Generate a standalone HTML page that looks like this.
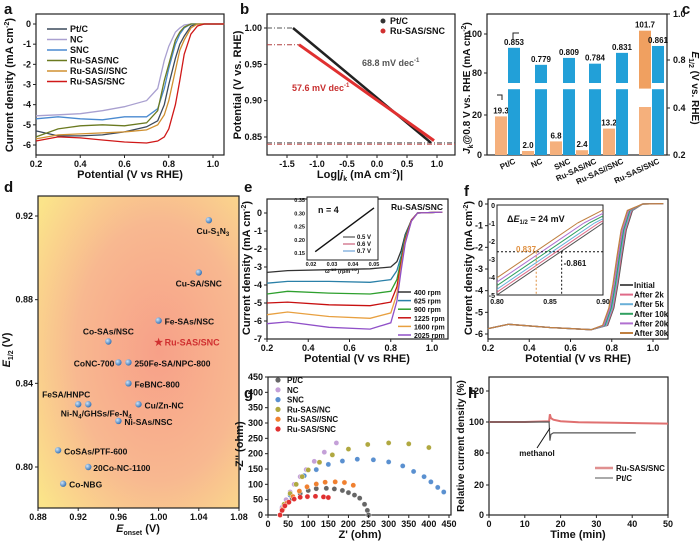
<!DOCTYPE html>
<html><head><meta charset="utf-8">
<style>
body{margin:0;background:#fff;}
svg{display:block;font-family:"Liberation Sans",sans-serif;font-weight:bold;}
</style></head>
<body>
<svg id="fig" width="700" height="556" viewBox="0 0 700 556" xmlns="http://www.w3.org/2000/svg">
<defs>
<radialGradient id="dbg" cx="0.6" cy="0.5" r="0.75">
<stop offset="0" stop-color="#f7a088"/><stop offset="0.55" stop-color="#f8b890"/><stop offset="1" stop-color="#fbe48a"/>
</radialGradient>
<radialGradient id="ball" cx="0.35" cy="0.35" r="0.7"><stop offset="0" stop-color="#cfe4f8"/><stop offset="1" stop-color="#2f6db0"/></radialGradient>
</defs>
</svg>
<script>
// ---------- DATA ----------
const aNames=["Pt/C","NC","SNC","Ru-SAS/NC","Ru-SAS//SNC","Ru-SAS/SNC"];
const aColors=["#3c4a5c","#a9a0d0","#4a8ad0","#6b7a20","#d09030","#d01818"];
const aV=[0.2,0.3,0.4,0.5,0.6,0.7,0.75,0.78,0.8,0.83,0.85,0.87,0.9,0.93,0.96,1.05];
const aPt=[-5.3,-5.55,-5.55,-5.5,-5.35,-5.1,-4.8,-4.0,-3.0,-1.7,-1.0,-0.6,-0.1,0,0,0];
const aNC=[-4.55,-4.5,-4.45,-4.3,-4.1,-3.8,-3.2,-1.8,-1.1,-0.4,-0.2,-0.05,0,0,0,0];
const aSNC=[-4.7,-4.6,-4.7,-4.75,-4.6,-4.6,-4.2,-3.2,-2.2,-1.0,-0.5,-0.2,0,0,0,0];
const aRuNC=[-5.6,-5.2,-5.05,-5.0,-5.05,-4.9,-4.3,-2.8,-2.0,-0.8,-0.4,-0.15,0,0,0,0];
const aRuSSNC=[-5.7,-5.5,-5.45,-5.4,-5.35,-5.25,-5.0,-4.5,-3.8,-2.3,-1.3,-0.8,-0.2,0,0,0];
const aRuSNC=[-5.8,-5.6,-5.65,-5.75,-5.85,-5.9,-5.8,-5.6,-5.2,-4.0,-2.8,-1.5,-0.5,-0.1,0,0];
const aSeries=[aPt,aNC,aSNC,aRuNC,aRuSSNC,aRuSNC];
const bLogJ0=[-1.4,-1.3]; const bLogJ1=[0.9,0.95];
const bE0=[1.0,0.977]; const bE1=[0.842,0.845];
const bSlopes=["68.8 mV dec","57.6 mV dec"];
const cCats=["Pt/C","NC","SNC","Ru-SAS/NC","Ru-SAS//SNC","Ru-SAS/SNC"];
const cJk=[19.3,2.0,6.8,2.4,13.2,101.7];
const cE12=[0.853,0.779,0.809,0.784,0.831,0.861];
const dNames=["Cu-S1N3","Cu-SA/SNC","Fe-SAs/NSC","Co-SAs/NSC","CoNC-700","250Fe-SA/NPC-800","FeBNC-800","FeSA/HNPC","Ni-N4/GHSs/Fe-N4","Cu/Zn-NC","Ni-SAs/NSC","CoSAs/PTF-600","20Co-NC-1100","Co-NBG"];
const dOnset=[1.05,1.04,1.00,0.95,0.96,0.97,0.97,0.92,0.93,0.98,0.96,0.90,0.93,0.905];
const dE12=[0.918,0.893,0.870,0.860,0.850,0.850,0.840,0.830,0.830,0.830,0.822,0.808,0.800,0.792];
const dStar=[1.00,0.860];
const eRpm=["400 rpm","625 rpm","900 rpm","1225 rpm","1600 rpm","2025 rpm"];
const eColors=["#333","#2a80a8","#2ea02e","#c81010","#e8a040","#9050c8"];
const eV=[0.2,0.3,0.5,0.7,0.8,0.83,0.85,0.87,0.9,0.93,1.05];
const e400=[-3.3,-3.2,-3.15,-3.1,-3.0,-2.7,-2.1,-1.2,-0.4,0,0.05];
const e625=[-3.9,-3.8,-3.8,-3.85,-3.7,-3.2,-2.4,-1.3,-0.4,0,0.05];
const e900=[-4.5,-4.35,-4.45,-4.5,-4.35,-3.7,-2.6,-1.4,-0.4,0,0.05];
const e1225=[-5.0,-4.95,-5.1,-5.15,-4.95,-4.1,-2.8,-1.5,-0.4,0,0.05];
const e1600=[-5.65,-5.5,-5.75,-5.85,-5.55,-4.5,-3.0,-1.6,-0.45,0,0.05];
const e2025=[-6.15,-6.05,-6.35,-6.45,-6.1,-4.9,-3.2,-1.7,-0.45,0,0.05];
const eSeries=[e400,e625,e900,e1225,e1600,e2025];
const eInsX=[0.022,0.05]; const eInsY=[0.155,0.32];
const fNames=["Initial","After 2k","After 5k","After 10k","After 20k","After 30k"];
const fColors=["#555","#e06a88","#6ab0d8","#30a060","#b070d0","#c08040"];
const fShift=[0,0.004,0.008,0.013,0.018,0.024];
const fV=[0.2,0.3,0.5,0.7,0.78,0.81,0.83,0.85,0.87,0.9,0.95,1.05];
const fJ=[-5.75,-5.55,-5.7,-5.8,-5.6,-4.8,-3.7,-2.4,-1.2,-0.3,0,0.02];
const fInsV=[0.80,0.82,0.84,0.86,0.88,0.90];
const fInsJ=[-5.0,-4.2,-3.4,-2.6,-1.8,-1.0];
const gNames=["Pt/C","NC","SNC","Ru-SAS/NC","Ru-SAS//SNC","Ru-SAS/SNC"];
const gColors=["#666","#c4a0d8","#5a90d0","#b0a840","#f08030","#e03030"];
const gPtX=[30,35,45,60,80,100,120,145,165,185,200,215,228,240,247,250];
const gPtY=[0,20,40,55,70,80,86,87,85,80,73,65,55,35,15,0];
const gNCX=[30,35,45,55,65,80,95,115,140,170];
const gNCY=[0,25,50,75,100,125,148,175,205,235];
const gSNCX=[30,40,55,70,90,120,150,185,222,262,300,335,362,388,405,422,437];
const gSNCY=[0,30,65,100,128,148,165,176,182,180,173,160,142,125,108,90,75];
const gRNX=[30,40,55,70,85,100,128,160,200,248,300,350,400];
const gRNY=[0,35,70,100,125,147,172,196,215,230,235,232,220];
const gRSSX=[30,37,48,62,78,97,120,142,167,190,212];
const gRSSY=[0,20,40,60,78,92,101,107,108,106,97];
const gRSX=[30,35,42,52,65,80,98,118,138,150];
const gRSY=[0,15,30,42,52,58,60,61,59,57];
const gX=[gPtX,gNCX,gSNCX,gRNX,gRSSX,gRSX]; const gY=[gPtY,gNCY,gSNCY,gRNY,gRSSY,gRSY];
const hT1=[0,5,10,16.8,17.0,17.3,18,20,25,35,50];
const hR1=[100,100,100,100.5,105,102.5,101.5,100.5,99.8,99.5,99];
const hT2=[0,5,10,16.8,17.0,17.3,18,25,41];
const hR2=[100,100,100,100,88,92,93,93,93];

// ---------- HELPERS ----------
const svg=document.getElementById('fig');
const NS='http://www.w3.org/2000/svg';
function mk(tag,attrs,name,parent){
  const el=document.createElementNS(NS,tag);
  for(const k in attrs) el.setAttribute(k,attrs[k]);
  
  
  (parent||svg).appendChild(el);
  return el;
}
function txt(x,y,s,name,o){o=o||{};
  const el=mk('text',Object.assign({x:x,y:y,'font-size':o.fs||9,fill:o.fill||'#111','text-anchor':o.anchor||'middle'},o.tr?{transform:o.tr}:{}),name,o.p);
  el.innerHTML=s; return el;}
function sc(d0,d1,r0,r1){return v=>r0+(v-d0)*(r1-r0)/(d1-d0);}
function frame(x0,y0,x1,y1,name){mk('rect',{x:x0,y:y0,width:x1-x0,height:y1-y0,fill:'none',stroke:'#222','stroke-width':1.2},name);}
function xticks(vals,X,yb,labels,name){vals.forEach((v,i)=>{mk('line',{x1:X(v),x2:X(v),y1:yb,y2:yb+3,stroke:'#222'},name+'-tick');txt(X(v),yb+12,labels[i],name+'-label');});}
function yticks(vals,Y,xl,labels,name,right){vals.forEach((v,i)=>{mk('line',{x1:xl,x2:right?xl+3:xl-3,y1:Y(v),y2:Y(v),stroke:'#222'},name+'-tick');txt(right?xl+6:xl-5,Y(v)+3,labels[i],name+'-label',{anchor:right?'start':'end'});});}
function path(xs,ys,X,Y,col,name,w){let d='';xs.forEach((v,i)=>{d+=(i?'L':'M')+X(v).toFixed(1)+','+Y(ys[i]).toFixed(1);});return mk('path',{d:d,fill:'none',stroke:col,'stroke-width':w||1.3},name);}
function plabel(x,y,s){txt(x,y,s,'panel-label-'+s,{fs:15,anchor:'start'});}

// ---------- PANEL A ----------
(function(){
const X=sc(0.2,1.0,36,213),Y=sc(0,-6,24,145);
frame(36,14,224,155,'panel-a-frame');
aSeries.forEach((s,i)=>path(aV,s,X,Y,aColors[i],'lsv-curve-'+aNames[i]));
xticks([0.2,0.4,0.6,0.8,1.0],X,155,['0.2','0.4','0.6','0.8','1.0'],'a-x');
yticks([0,-1,-2,-3,-4,-5,-6],Y,36,['0','-1','-2','-3','-4','-5','-6'],'a-y');
txt(130,178,'Potential (V vs RHE)','a-x-axis-title',{fs:11});
txt(13,85,'Current  density (mA cm<tspan font-size="7" dy="-4">-2</tspan><tspan dy="4">)</tspan>','a-y-axis-title',{fs:11,tr:'rotate(-90 13 85)'});
aNames.forEach((n,i)=>{const y=29+i*10.5;mk('line',{x1:47,x2:67,y1:y,y2:y,stroke:aColors[i],'stroke-width':1.5},'a-legend-line');txt(70,y+3,n,'a-legend-entry',{anchor:'start'});});
plabel(4,14,'a');
})();

// ---------- PANEL B ----------
(function(){
const X=sc(-1.5,1.0,287,437),Y=sc(1.0,0.85,28,137);
frame(267,14,455,155,'panel-b-frame');
mk('line',{x1:267,x2:X(bLogJ0[0]),y1:Y(bE0[0]),y2:Y(bE0[0]),stroke:'#555','stroke-dasharray':'5,2,1,2'},'b-ref-line');
mk('line',{x1:267,x2:X(bLogJ0[1]),y1:Y(bE0[1]),y2:Y(bE0[1]),stroke:'#b04040','stroke-dasharray':'5,2,1,2'},'b-ref-line');
mk('line',{x1:267,x2:455,y1:Y(0.842),y2:Y(0.842),stroke:'#555','stroke-dasharray':'5,2,1,2'},'b-ref-line');
mk('line',{x1:267,x2:455,y1:Y(0.840),y2:Y(0.840),stroke:'#c05050','stroke-dasharray':'5,2,1,2'},'b-ref-line');
path([bLogJ0[0],bLogJ1[0]],[bE0[0],bE1[0]],X,Y,'#222','tafel-ptc',2.5);
path([bLogJ0[1],bLogJ1[1]],[bE0[1],bE1[1]],X,Y,'#e03030','tafel-ru-sas-snc',3);
xticks([-1.5,-1.0,-0.5,0,0.5,1.0],X,155,['-1.5','-1.0','-0.5','0.0','0.5','1.0'],'b-x');
yticks([1.0,0.95,0.9,0.85],Y,267,['1.00','0.95','0.90','0.85'],'b-y');
txt(362,66,bSlopes[0]+'<tspan font-size="6" dy="-4">-1</tspan>','b-slope-ptc',{fs:9,fill:'#555',anchor:'start'});
txt(292,91,bSlopes[1]+'<tspan font-size="6" dy="-4">-1</tspan>','b-slope-ru',{fs:9,fill:'#c83030',anchor:'start'});
txt(360,178,'Log|<tspan font-style="italic">j</tspan><tspan font-size="7" dy="3">k</tspan><tspan dy="-3"> (mA cm</tspan><tspan font-size="7" dy="-4">-2</tspan><tspan dy="4">)|</tspan>','b-x-axis-title',{fs:11});
txt(241,85,'Potential (V vs. RHE)','b-y-axis-title',{fs:11,tr:'rotate(-90 241 85)'});
[['Pt/C','#333'],['Ru-SAS/SNC','#d03030']].forEach((l,i)=>{mk('circle',{cx:383,cy:21+i*10,r:2.5,fill:l[1]},'b-legend-marker');txt(390,24+i*10,l[0],'b-legend-entry',{anchor:'start'});});
plabel(240,14,'b');
})();

// ---------- PANEL C ----------
(function(){
const YL=v=>v<=25?155-2*v:73-1.95*(v-80);
const YR=v=>v<=0.5?155-(v-0.2)*235:60-(v-0.8)*230;
frame(487,14,667,155,'panel-c-frame');
const cx=[514,541,569,595,622,658];
cCats.forEach((c,i)=>{
  const bx=cx[i]-6, ox=cx[i]-19;
  const jv=cJk[i];
  mk('rect',{x:ox,y:YL(Math.min(jv,24)),width:12,height:155-YL(Math.min(jv,24)),fill:'#f5b07c'},'jk-bar-'+c);
  if(jv>70) mk('rect',{x:ox,y:YL(jv),width:12,height:YL(72)-YL(jv),fill:'#f0a060'},'jk-bar-upper-'+c);
  txt(ox+6,(jv>70?YL(jv):YL(jv))-3,jv.toFixed(1),'jk-value',{fs:8});
  mk('rect',{x:bx,y:YR(0.48),width:12,height:155-YR(0.48),fill:'#22a0d8'},'e12-bar-'+c);
  mk('rect',{x:bx,y:YR(cE12[i]),width:12,height:YR(0.7)-YR(cE12[i]),fill:'#22a0d8'},'e12-bar-upper-'+c);
  txt(bx+6,YR(cE12[i])-3,cE12[i].toFixed(3),'e12-value',{fs:8});
  txt(cx[i]+2,163,c,'c-category-label',{fs:8,anchor:'end',tr:'rotate(-25 '+(cx[i]+2)+' 163)'});
});
yticks([0,20],YL,487,['0','20'],'c-yl');yticks([80,100],YL,487,['80','100'],'c-yl');
yticks([0.2,0.4],YR,667,['0.2','0.4'],'c-yr',true);yticks([0.8,1.0],YR,667,['0.8','1.0'],'c-yr',true);
txt(470,88,'<tspan font-style="italic">J</tspan><tspan font-size="7" dy="3">k</tspan><tspan dy="-3">@0.8 V vs. RHE (mA cm</tspan><tspan font-size="7" dy="-4">-2</tspan><tspan dy="4">)</tspan>','c-left-axis-title',{fs:10,tr:'rotate(-90 470 88)'});
txt(692,88,'<tspan font-style="italic">E</tspan><tspan font-size="7" dy="3">1/2</tspan><tspan dy="-3"> (V vs. RHE)</tspan>','c-right-axis-title',{fs:10,tr:'rotate(90 692 88)'});
mk('path',{d:'M513,40 V33 H519',fill:'none',stroke:'#222'},'c-arrow');
mk('path',{d:'M502,100 V95 H497',fill:'none',stroke:'#222'},'c-arrow');
txt(686,14,'c','panel-label-c',{fs:15});
})();

// ---------- PANEL D ----------
(function(){
const X=sc(0.88,1.08,38,239),Y=sc(0.92,0.80,216,467);
mk('rect',{x:38,y:196,width:201,height:312,fill:'url(#dbg)'},'d-background');
frame(38,196,239,508,'panel-d-frame');
const off={ 'Cu-S1N3':[4,14,'middle'],'Cu-SA/SNC':[0,14,'middle'],'Fe-SAs/NSC':[6,4,'start'],'Co-SAs/NSC':[0,-7,'middle'],'CoNC-700':[-4,4,'end'],'250Fe-SA/NPC-800':[6,4,'start'],'FeBNC-800':[6,4,'start'],'FeSA/HNPC':[-12,-7,'middle'],'Ni-N4/GHSs/Fe-N4':[8,12,'middle'],'Cu/Zn-NC':[6,4,'start'],'Ni-SAs/NSC':[6,4,'start'],'CoSAs/PTF-600':[6,4,'start'],'20Co-NC-1100':[5,4,'start'],'Co-NBG':[6,4,'start']};
dNames.forEach((n,i)=>{
  const x=X(dOnset[i]),y=Y(dE12[i]);
  mk('circle',{cx:x,cy:y,r:3.2,fill:'url(#ball)'},'catalyst-point-'+n);
  const o=off[n];
  let s=n.replace('S1N3','S<tspan font-size="6" dy="2">1</tspan><tspan dy="-2">N</tspan><tspan font-size="6" dy="2">3</tspan>').replace('N4/','N<tspan font-size="6" dy="2">4</tspan><tspan dy="-2">/</tspan>').replace('Fe-N4','Fe-N<tspan font-size="6" dy="2">4</tspan>');
  txt(x+o[0],y+o[1],s,'catalyst-label',{fs:8.5,anchor:o[2]});
});
txt(X(dStar[0]),Y(dStar[1])+4,'★','ru-sas-snc-star',{fs:10,fill:'#d03030'});
txt(X(dStar[0])+6,Y(dStar[1])+4,'Ru-SAS/SNC','ru-sas-snc-label',{fs:9,fill:'#d03030',anchor:'start'});
xticks([0.88,0.92,0.96,1.00,1.04,1.08],X,508,['0.88','0.92','0.96','1.00','1.04','1.08'],'d-x');
yticks([0.80,0.84,0.88,0.92],Y,38,['0.80','0.84','0.88','0.92'],'d-y');
txt(138,532,'<tspan font-style="italic">E</tspan><tspan font-size="7" dy="3">onset</tspan><tspan dy="-3"> (V)</tspan>','d-x-axis-title',{fs:11});
txt(10,350,'<tspan font-style="italic">E</tspan><tspan font-size="7" dy="3">1/2</tspan><tspan dy="-3"> (V)</tspan>','d-y-axis-title',{fs:11,tr:'rotate(-90 10 350)'});
plabel(4,192,'d');
})();

// ---------- PANEL E ----------
(function(){
const X=sc(0.2,1.0,267,432),Y=sc(0,-7,213,339);
frame(267,199,448,339,'panel-e-frame');
eSeries.forEach((s,i)=>path(eV,s,X,Y,eColors[i],'rde-curve-'+eRpm[i]));
xticks([0.2,0.4,0.6,0.8,1.0],X,339,['0.2','0.4','0.6','0.8','1.0'],'e-x');
yticks([0,-1,-2,-3,-4,-5,-6,-7],Y,267,['0','-1','-2','-3','-4','-5','-6','-7'],'e-y');
txt(357,362,'Potential (V vs RHE)','e-x-axis-title',{fs:11});
txt(250,268,'Current  density (mA cm<tspan font-size="7" dy="-4">-2</tspan><tspan dy="4">)</tspan>','e-y-axis-title',{fs:11,tr:'rotate(-90 250 268)'});
txt(443,210,'Ru-SAS/SNC','e-sample-label',{fs:8.5,anchor:'end'});
eRpm.forEach((r,i)=>{const y=292+i*8.6;mk('line',{x1:398,x2:411,y1:y,y2:y,stroke:eColors[i],'stroke-width':1.5},'e-legend-line');txt(414,y+3,r,'e-legend-entry',{fs:7,anchor:'start'});});
mk('rect',{x:307,y:197,width:71,height:63,fill:'#fff',stroke:'#222'},'e-inset-frame');
const IX=sc(0.02,0.05,311,374),IY=sc(0.15,0.35,253,200);
path(eInsX,eInsY,IX,IY,'#111','kl-line',1.4);
txt(318,213,'n = 4','e-inset-n',{fs:9,anchor:'start'});
['0.5 V','0.6 V','0.7 V'].forEach((l,i)=>{mk('line',{x1:343,x2:355,y1:237+i*7,y2:237+i*7,stroke:['#333','#c04060','#5090d0'][i]},'e-inset-legend-line');txt(357,239+i*7,l,'e-inset-legend',{fs:6,anchor:'start'});});
[0.02,0.03,0.04,0.05].forEach(v=>txt(IX(v),266,v.toFixed(2),'e-inset-x-label',{fs:5.5}));
[0.15,0.2,0.25,0.3,0.35].forEach(v=>txt(305,IY(v)+2,v.toFixed(2),'e-inset-y-label',{fs:5.5,anchor:'end'}));
txt(342,273,'ω<tspan font-size="4" dy="-2">-1/2</tspan><tspan dy="2"> (rpm</tspan><tspan font-size="4" dy="-2">-1/2</tspan><tspan dy="2">)</tspan>','e-inset-x-title',{fs:5.5});
plabel(244,192,'e');
})();

// ---------- PANEL F ----------
(function(){
const X=sc(0.2,1.0,488,653),Y=sc(0,-6,204,334);
frame(488,199,668,339,'panel-f-frame');
fNames.forEach((n,i)=>path(fV.map(v=>v-fShift[i]*(v>0.75&&v<0.95?1:0)),fJ,X,Y,fColors[i],'stability-curve-'+n));
xticks([0.2,0.4,0.6,0.8,1.0],X,339,['0.2','0.4','0.6','0.8','1.0'],'f-x');
yticks([0,-1,-2,-3,-4,-5,-6],Y,488,['0','-1','-2','-3','-4','-5','-6'],'f-y');
txt(578,362,'Potential (V vs RHE)','f-x-axis-title',{fs:11});
txt(472,268,'Current  density (mA cm<tspan font-size="7" dy="-4">-2</tspan><tspan dy="4">)</tspan>','f-y-axis-title',{fs:11,tr:'rotate(-90 472 268)'});
fNames.forEach((n,i)=>{const y=285+i*9.6;mk('line',{x1:620,x2:633,y1:y,y2:y,stroke:fColors[i],'stroke-width':2},'f-legend-line');txt(634,y+3,n,'f-legend-entry',{fs:8,anchor:'start'});});
mk('rect',{x:497,y:205,width:106,height:90,fill:'#fff',stroke:'#222'},'f-inset-frame');
const IX=sc(0.8,0.9,497,603),IY=sc(0,-5,205,295);
const clip=mk('clipPath',{id:'fclip'},'f-inset-clip');
mk('rect',{x:497,y:205,width:106,height:90},'f-inset-clip-rect',clip);
fNames.forEach((n,i)=>{const p=path(fInsV.map(v=>v-fShift[i]),fInsJ,IX,IY,fColors[i],'f-inset-curve-'+n,1);p.setAttribute('clip-path','url(#fclip)');
  const p2=path([0.9-fShift[i],0.9],[-1.0,-1.0+fShift[i]*30],IX,IY,fColors[i],'f-inset-curve-tail-'+n,1);p2.setAttribute('clip-path','url(#fclip)');});
mk('line',{x1:497,x2:603,y1:IY(-2.6),y2:IY(-2.6),stroke:'#111','stroke-dasharray':'2,2'},'f-inset-guide');
mk('line',{x1:IX(0.861),x2:IX(0.861),y1:IY(-2.6),y2:295,stroke:'#111','stroke-dasharray':'2,2'},'f-inset-guide');
mk('line',{x1:IX(0.837),x2:IX(0.837),y1:IY(-2.6),y2:295,stroke:'#e09040','stroke-dasharray':'2,2'},'f-inset-guide');
txt(516,252,'0.837','f-inset-val1',{fs:8,fill:'#e09040',anchor:'start'});
txt(IX(0.861)+2,266,'-0.861','f-inset-val2',{fs:8,anchor:'start'});
txt(507,222,'Δ<tspan font-style="italic">E</tspan><tspan font-size="6" dy="2">1/2</tspan><tspan dy="-2"> = 24 mV</tspan>','f-inset-delta',{fs:9,anchor:'start'});
[0,-1,-2,-3,-4,-5].forEach(v=>txt(495,IY(v)+3,String(v),'f-inset-y-label',{fs:7,anchor:'end'}));
[0.8,0.85,0.9].forEach(v=>txt(IX(v),304,v.toFixed(2),'f-inset-x-label',{fs:7}));
plabel(464,196,'f');
})();

// ---------- PANEL G ----------
(function(){
const X=sc(0,450,268,449),Y=sc(0,450,515,377);
frame(268,377,451,515,'panel-g-frame');
gNames.forEach((n,i)=>gX[i].forEach((x,k)=>mk('circle',{cx:X(x),cy:Y(gY[i][k]),r:2.6,fill:gColors[i],stroke:'#fff','stroke-width':0.4},'nyquist-point-'+n)));
xticks([0,50,100,150,200,250,300,350,400,450],X,515,['0','50','100','150','200','250','300','350','400','450'],'g-x');
yticks([0,50,100,150,200,250,300,350,400,450],Y,268,['0','50','100','150','200','250','300','350','400','450'],'g-y');
txt(360,538,"Z' (ohm)",'g-x-axis-title',{fs:11});
txt(243,446,"-Z'' (ohm)",'g-y-axis-title',{fs:11,tr:'rotate(-90 243 446)'});
gNames.forEach((n,i)=>{const y=380+i*9.8;mk('circle',{cx:278,cy:y,r:2.6,fill:gColors[i]},'g-legend-marker');txt(287,y+3,n,'g-legend-entry',{fs:8,anchor:'start'});});
plabel(244,398,'g');
})();

// ---------- PANEL H ----------
(function(){
const X=sc(0,50,489,668);
const Y=v=>v<=30?515-v*1.5:422-(v-100)*1.55;
frame(489,377,668,515,'panel-h-frame');
path(hT1,hR1,X,Y,'#e07070','ru-sas-snc-chrono',2);
path(hT2,hR2,X,Y,'#555','ptc-chrono',1.2);
xticks([0,10,20,30,40,50],X,515,['0','10','20','30','40','50'],'h-x');
yticks([0,20,80,100,120],Y,489,['0','20','80','100','120'],'h-y');
mk('line',{x1:537,x2:550,y1:448,y2:428,stroke:'#111'},'methanol-arrow');
txt(537,456,'methanol','methanol-label',{fs:8});
mk('line',{x1:595,x2:613,y1:468,y2:468,stroke:'#e09090','stroke-width':2.5},'h-legend-line');
txt(616,471,'Ru-SAS/SNC','h-legend-entry',{fs:8,anchor:'start'});
mk('line',{x1:595,x2:613,y1:478,y2:478,stroke:'#555'},'h-legend-line');
txt(616,481,'Pt/C','h-legend-entry',{fs:8,anchor:'start'});
txt(578,538,'Time (min)','h-x-axis-title',{fs:11});
txt(464,446,'Relative current density (%)','h-y-axis-title',{fs:10,tr:'rotate(-90 464 446)'});
plabel(468,398,'h');
})();
</script>
</body></html>
